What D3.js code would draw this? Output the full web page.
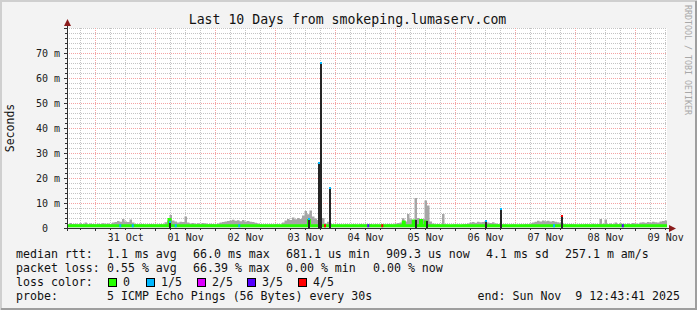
<!DOCTYPE html>
<html>
<head>
<meta charset="utf-8">
<script src="https://cdn.jsdelivr.net/npm/d3@7"></script>
<style>
  body { margin: 0; background: #fff; }
  svg text { font-family: "DejaVu Sans Mono", monospace; white-space: pre; }
</style>
</head>
<body>
<svg id="chart" width="697" height="310"></svg>
<script>
// time window of the graph (server local time shown as UTC)
const startTime = Date.UTC(2025, 9, 30, 12, 43, 41);
const endTime = Date.UTC(2025, 10, 9, 12, 43, 41);
const HOUR = 3600e3;

// smoke: max rtt (ms) per hour from the start
const smokeMax = [
  1.4, 2.0, 1.6, 1.7, 1.5, 1.9, 1.6, 2.2, 1.5, 1.8, 1.6, 1.5, 1.7, 1.6, 1.9, 1.7, 1.8, 1.6, 2.2, 2.4, 2.8, 2.5, 3.6, 2.6,
  2.4, 3.4, 2.2, 1.6, 1.5, 1.7, 1.6, 1.4, 1.5, 1.6, 1.5, 1.5, 1.4, 1.6, 1.5, 2.3, 3.0, 5.2, 3.0, 2.6, 2.2, 2.5, 2.4, 4.6,
  2.2, 1.8, 2.0, 1.7, 1.9, 1.7, 2.0, 1.8, 1.6, 1.7, 1.6, 1.5, 1.8, 2.2, 2.4, 2.6, 2.8, 3.0, 3.3, 2.9, 3.1, 2.7, 3.2, 2.6,
  2.8, 2.5, 2.4, 2.1, 1.8, 1.6, 1.4, 1.5, 1.4, 1.5, 1.4, 1.6, 1.5, 1.4, 2.2, 3.0, 3.6, 3.2, 4.2, 3.5, 4.0, 3.6, 5.0, 6.8,
  5.5, 7.0, 4.6, 3.8, 3.2, 3.0, 4.0, 1.8, 2.5, 1.6, 1.4, 1.3, 1.5, 1.4, 1.3, 1.5, 1.4, 1.3, 1.5, 1.4, 1.3, 1.6, 1.4, 1.5,
  1.4, 1.6, 1.3, 1.5, 1.4, 1.3, 1.5, 1.4, 1.6, 1.5, 1.4, 1.8, 2.0, 2.2, 3.9, 2.6, 5.6, 3.5, 3.0, 12.0, 4.0, 3.2, 3.6, 11.0,
  9.0, 2.6, 1.8, 1.5, 1.6, 1.4, 5.6, 1.5, 1.4, 1.3, 1.4, 1.5, 1.4, 1.3, 1.5, 1.6, 1.8, 2.2, 2.4, 2.1, 2.5, 2.3, 2.4, 2.8,
  2.2, 2.0, 2.3, 1.8, 1.6, 1.5, 1.4, 1.5, 1.3, 1.4, 1.5, 1.4, 1.3, 1.5, 1.4, 1.6, 1.5, 1.8, 2.2, 2.5, 2.9, 2.6, 3.0, 2.7,
  2.9, 2.6, 2.8, 2.5, 2.3, 2.0, 1.7, 1.5, 1.4, 1.6, 1.5, 1.4, 1.3, 1.5, 1.4, 1.6, 1.5, 1.4, 1.7, 1.5, 1.6, 3.6, 1.7, 3.4,
  1.6, 1.8, 1.5, 2.2, 1.6, 1.9, 1.7, 1.5, 1.8, 1.6, 2.0, 1.8, 1.7, 2.2, 2.3, 2.1, 2.4, 2.2, 2.5, 2.3, 2.2, 2.6, 2.8, 3.0
];

// median rtt breakpoints [hour, ms]
const medianPts = [
  [0, 0.9], [40.5, 0.9], [40.8, 3.4], [41.2, 0.9], [96.3, 0.9], [96.6, 3.0], [97.0, 0.9],
  [134.2, 0.9], [134.5, 2.4], [134.9, 0.9], [138.2, 0.9], [138.5, 2.8], [138.9, 0.9],
  [141.1, 0.9], [141.4, 3.0], [141.8, 0.9], [143.3, 2.4], [143.7, 0.9], [240, 0.9]
];

// dense spikes [hour, ms, loss index]
const darkBars = [
  [41.1, 3.0, 1], [96.8, 4.0, 1], [100.8, 26.5, 1], [101.6, 66.4, 1], [105.0, 16.6, 1],
  [139.5, 3.2, 0], [143.9, 3.0, 0], [167.5, 3.3, 1], [173.7, 8.1, 1], [197.9, 5.3, 4]
];

// short loss-coloured pieces of the median line [hour, loss index]
const lossMarks = [
  [21.3, 1], [26.3, 1], [43.5, 1], [68.9, 1], [103.2, 4], [120.5, 3], [126.1, 4], [194.8, 1], [222.3, 3]
];

const dayLabels = ['31 Oct', '01 Nov', '02 Nov', '03 Nov', '04 Nov', '05 Nov', '06 Nov', '07 Nov', '08 Nov', '09 Nov'];
const yTicks = [0, 10, 20, 30, 40, 50, 60, 70];
const lossLabels = ['0', '1/5', '2/5', '3/5', '4/5'];
const lossColors = ['#26ff00', '#00b8ff', '#dd00ff', '#5500ff', '#ff0000'];
const rttStats = ['1.1 ms avg', '66.0 ms max', '681.1 us min', '909.3 us now', '4.1 ms sd', '257.1 m am/s'];
const lossStats = ['0.55 % avg', '66.39 % max', '0.00 % min', '0.00 % now'];
const probeText = '5 ICMP Echo Pings (56 Bytes) every 30s';
const endText = 'end: Sun Nov  9 12:43:41 2025';

const svg = d3.select('#chart');
const W = 697, H = 310;
const plot = {left: 67, right: 667, top: 28, bottom: 228};

const x = d3.scaleUtc().domain([startTime, endTime]).range([plot.left, plot.right]);
const y = d3.scaleLinear().domain([0, 80]).range([plot.bottom, plot.top]);

//background and 3d frame
svg.append('rect').attr('width', W).attr('height', H).attr('fill', '#f3f3f3');
svg.append('path').attr('d', `M1,${H} V1 H${W}`).attr('fill', 'none').attr('stroke', '#cfcfcf').attr('stroke-width', 2);
svg.append('path').attr('d', `M1,${H - 1} H${W - 1} V1`).attr('fill', 'none').attr('stroke', '#9e9e9e').attr('stroke-width', 2);
svg.append('rect')
  .attr('x', plot.left).attr('y', plot.top)
  .attr('width', plot.right - plot.left).attr('height', plot.bottom - plot.top)
  .attr('fill', '#ffffff');

//grid
const grid = svg.append('g').attr('shape-rendering', 'crispEdges');
const majorDays = d3.utcDay.range(startTime, endTime);
const minorHours = d3.utcHour.every(6).range(startTime, endTime).filter(d => d.getUTCHours() !== 0);
const minorY = d3.range(2, 81, 2).filter(v => v % 10 !== 0 || v === 80);
const majorY = yTicks.filter(v => v > 0);

grid.selectAll('.vminor').data(minorHours).join('line')
  .attr('x1', d => Math.round(x(d)) + 0.5).attr('x2', d => Math.round(x(d)) + 0.5)
  .attr('y1', plot.top).attr('y2', plot.bottom)
  .attr('stroke', '#c4c4c4').attr('stroke-dasharray', '1,1');
grid.selectAll('.hminor').data(minorY).join('line')
  .attr('x1', plot.left).attr('x2', plot.right)
  .attr('y1', d => Math.round(y(d)) + 0.5).attr('y2', d => Math.round(y(d)) + 0.5)
  .attr('stroke', '#c4c4c4').attr('stroke-dasharray', '1,1');
grid.selectAll('.vmajor').data(majorDays).join('line')
  .attr('x1', d => Math.round(x(d)) + 0.5).attr('x2', d => Math.round(x(d)) + 0.5)
  .attr('y1', plot.top).attr('y2', plot.bottom)
  .attr('stroke', '#f5a3a3').attr('stroke-dasharray', '1,1');
grid.selectAll('.hmajor').data(majorY).join('line')
  .attr('x1', plot.left).attr('x2', plot.right)
  .attr('y1', d => Math.round(y(d)) + 0.5).attr('y2', d => Math.round(y(d)) + 0.5)
  .attr('stroke', '#f5a3a3').attr('stroke-dasharray', '1,1');

//smoke
const smokeData = smokeMax.map((v, i) => ({t: startTime + i * HOUR, v: v}));
smokeData.push({t: endTime, v: smokeMax[smokeMax.length - 1]});
svg.append('path')
  .datum(smokeData)
  .attr('fill', '#a6a6a6')
  .attr('d', d3.area().curve(d3.curveStepAfter)
    .x(d => x(d.t)).y0(y(0.3)).y1(d => y(d.v)));

//median line
svg.append('path')
  .datum(medianPts)
  .attr('fill', 'none')
  .attr('stroke', lossColors[0])
  .attr('stroke-width', 3)
  .attr('d', d3.line().curve(d3.curveStepAfter)
    .x(d => x(startTime + d[0] * HOUR)).y(d => y(d[1])));

svg.selectAll('.lossmark').data(lossMarks).join('rect')
  .attr('x', d => x(startTime + d[0] * HOUR) - 1)
  .attr('y', y(0.9) - 1.5)
  .attr('width', 2).attr('height', 3)
  .attr('fill', d => lossColors[d[1]]);

//dark spikes with loss coloured tip
const bars = svg.append('g').attr('shape-rendering', 'crispEdges');
bars.selectAll('.dark').data(darkBars).join('rect')
  .attr('x', d => x(startTime + d[0] * HOUR) - 1)
  .attr('y', d => y(d[1]))
  .attr('width', 2)
  .attr('height', d => y(0) - y(d[1]))
  .attr('fill', '#262626');
bars.selectAll('.tip').data(darkBars.filter(d => d[2] > 0)).join('rect')
  .attr('x', d => x(startTime + d[0] * HOUR) - 1)
  .attr('y', d => y(d[1]))
  .attr('width', 2).attr('height', 2)
  .attr('fill', d => lossColors[d[2]]);

//axes lines, ticks and arrows
const axisCol = '#303030';
svg.append('line').attr('x1', plot.left - 3).attr('x2', plot.right + 4)
  .attr('y1', plot.bottom + 0.5).attr('y2', plot.bottom + 0.5)
  .attr('stroke', axisCol).attr('shape-rendering', 'crispEdges');
svg.append('line').attr('x1', plot.left + 0.5).attr('x2', plot.left + 0.5)
  .attr('y1', plot.bottom + 3).attr('y2', plot.top - 4)
  .attr('stroke', axisCol).attr('shape-rendering', 'crispEdges');
svg.append('path').attr('d', `M${plot.left + 0.5},${plot.top - 9} l-3.5,7 h7 z`).attr('fill', '#8b1c1c');
svg.append('path').attr('d', `M${plot.right + 9},${plot.bottom + 0.5} l-7,-3.5 v7 z`).attr('fill', '#8b1c1c');

const ticks = svg.append('g').attr('stroke', axisCol).attr('shape-rendering', 'crispEdges');
ticks.selectAll('.yt').data(minorY.concat(majorY)).join('line')
  .attr('x1', d => plot.left - (d % 10 === 0 ? 3 : 2)).attr('x2', plot.left)
  .attr('y1', d => Math.round(y(d)) + 0.5).attr('y2', d => Math.round(y(d)) + 0.5);
ticks.selectAll('.xt').data(minorHours.concat(majorDays)).join('line')
  .attr('x1', d => Math.round(x(d)) + 0.5).attr('x2', d => Math.round(x(d)) + 0.5)
  .attr('y1', plot.bottom).attr('y2', d => plot.bottom + (d.getUTCHours() === 0 ? 3 : 2));

//axis labels
const noons = dayLabels.map((s, i) => new Date(Date.UTC(2025, 9, 31 + i, 12)));
const xAxis = svg.append('g')
  .attr('transform', `translate(0,${plot.bottom})`)
  .call(d3.axisBottom(x).tickValues(noons).tickFormat((d, i) => dayLabels[i]).tickSize(0).tickPadding(6));
xAxis.select('.domain').remove();
xAxis.selectAll('text').attr('font-family', '"DejaVu Sans Mono", monospace').attr('font-size', 10).attr('fill', '#1a1a1a');

const yAxis = svg.append('g')
  .attr('transform', `translate(${plot.left},0)`)
  .call(d3.axisLeft(y).tickValues(yTicks).tickFormat(d => d === 0 ? '0\u00a0\u00a0' : d + ' m').tickSize(0).tickPadding(7));
yAxis.select('.domain').remove();
yAxis.selectAll('text').attr('font-family', '"DejaVu Sans Mono", monospace').attr('font-size', 10).attr('fill', '#1a1a1a');

//titles
svg.append('text')
  .attr('x', 347.5).attr('y', 24)
  .attr('text-anchor', 'middle')
  .attr('font-size', 13.2).attr('fill', '#111')
  .text('Last 10 Days from smokeping.lumaserv.com');
svg.append('text')
  .attr('transform', 'translate(14,128) rotate(-90)')
  .attr('text-anchor', 'middle')
  .attr('font-size', 11.5).attr('fill', '#111')
  .text('Seconds');
svg.append('text')
  .attr('transform', 'translate(685,5) rotate(90)')
  .attr('font-size', 8.3).attr('fill', '#a8a8a8')
  .text('RRDTOOL / TOBI OETIKER');

//legend, each gprint item placed at its own column
const legend = svg.append('g').attr('font-size', 11.6).attr('fill', '#111');
const rttX = [107, 193, 286, 386, 486, 565];
const lossX = [107, 193, 286, 373];
legend.append('text').attr('x', 16).attr('y', 258).text('median rtt:');
rttStats.forEach((s, i) => legend.append('text').attr('x', rttX[i]).attr('y', 258).text(s));
legend.append('text').attr('x', 16).attr('y', 272).text('packet loss:');
lossStats.forEach((s, i) => legend.append('text').attr('x', lossX[i]).attr('y', 272).text(s));
legend.append('text').attr('x', 16).attr('y', 286).text('loss color:');
const boxX = [108, 146, 197, 247, 298];
lossLabels.forEach((lab, i) => {
  legend.append('rect')
    .attr('x', boxX[i] + 0.5).attr('y', 278.5)
    .attr('width', 8).attr('height', 8)
    .attr('fill', lossColors[i]).attr('stroke', '#000').attr('stroke-width', 1);
  legend.append('text').attr('x', boxX[i] + 15).attr('y', 286).text(lab);
});
legend.append('text').attr('x', 16).attr('y', 300).text('probe:');
legend.append('text').attr('x', 107).attr('y', 300).text(probeText);
legend.append('text').attr('x', 680).attr('y', 300).attr('text-anchor', 'end').text(endText);
</script>
</body>
</html>
